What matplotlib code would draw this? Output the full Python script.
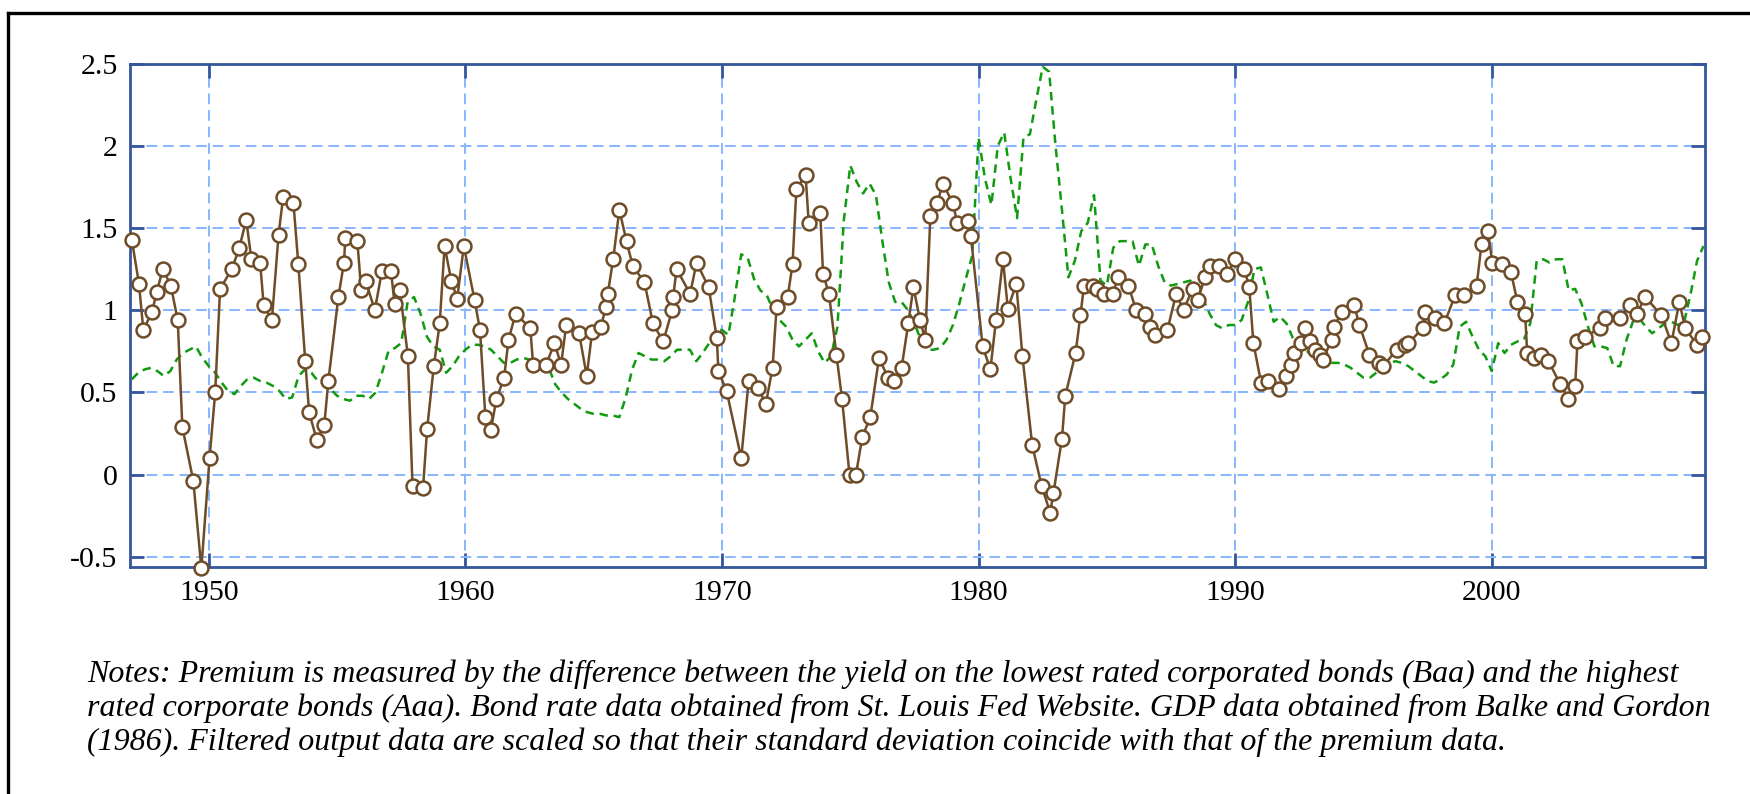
import numpy as np
import matplotlib
matplotlib.use("Agg")
import matplotlib.pyplot as plt
from matplotlib.lines import Line2D

plt.rcParams['font.family'] = ['Liberation Serif', 'DejaVu Serif']
plt.rcParams['axes.unicode_minus'] = False

premium_year = [
    1947.00, 1947.28, 1947.45, 1947.79, 1947.97, 1948.21, 1948.52, 1948.79, 1948.97, 1949.40,
    1949.71, 1950.03, 1950.25, 1950.44, 1950.90, 1951.19, 1951.46, 1951.66, 1952.00, 1952.14,
    1952.46, 1952.72, 1952.90, 1953.30, 1953.49, 1953.76, 1953.91, 1954.21, 1954.50, 1954.66,
    1955.05, 1955.27, 1955.32, 1955.79, 1955.94, 1956.11, 1956.47, 1956.75, 1957.10, 1957.24,
    1957.45, 1957.76, 1957.94, 1958.35, 1958.51, 1958.77, 1959.00, 1959.19, 1959.45, 1959.68,
    1959.94, 1960.36, 1960.57, 1960.78, 1960.99, 1961.21, 1961.51, 1961.68, 1961.96, 1962.53,
    1962.64, 1963.15, 1963.47, 1963.73, 1963.93, 1964.43, 1964.73, 1964.94, 1965.29, 1965.47,
    1965.55, 1965.76, 1966.00, 1966.28, 1966.52, 1966.98, 1967.31, 1967.71, 1968.06, 1968.10,
    1968.23, 1968.76, 1969.01, 1969.48, 1969.80, 1969.86, 1970.18, 1970.75, 1971.04, 1971.40,
    1971.71, 1971.97, 1972.13, 1972.56, 1972.75, 1972.90, 1973.26, 1973.38, 1973.83, 1973.94,
    1974.17, 1974.46, 1974.68, 1974.97, 1975.22, 1975.47, 1975.78, 1976.12, 1976.47, 1976.70,
    1977.00, 1977.26, 1977.46, 1977.72, 1977.92, 1978.12, 1978.38, 1978.61, 1979.00, 1979.17,
    1979.59, 1979.70, 1980.16, 1980.46, 1980.68, 1980.95, 1981.14, 1981.47, 1981.71, 1982.09,
    1982.46, 1982.79, 1982.92, 1983.25, 1983.38, 1983.78, 1983.97, 1984.11, 1984.46, 1984.63,
    1984.87, 1985.22, 1985.45, 1985.84, 1986.14, 1986.47, 1986.67, 1986.89, 1987.36, 1987.70,
    1987.99, 1988.34, 1988.54, 1988.82, 1989.00, 1989.37, 1989.70, 1990.00, 1990.36, 1990.55,
    1990.71, 1991.01, 1991.28, 1991.71, 1991.97, 1992.17, 1992.29, 1992.55, 1992.72, 1992.90,
    1993.10, 1993.30, 1993.42, 1993.76, 1993.86, 1994.15, 1994.64, 1994.84, 1995.23, 1995.60,
    1995.77, 1996.29, 1996.62, 1996.75, 1997.31, 1997.40, 1997.79, 1998.15, 1998.57, 1998.93,
    1999.41, 1999.60, 1999.85, 2000.02, 2000.39, 2000.75, 2001.00, 2001.30, 2001.38, 2001.66,
    2001.91, 2002.21, 2002.67, 2002.99, 2003.25, 2003.34, 2003.64, 2004.20, 2004.42, 2004.98,
    2005.37, 2005.66, 2005.98, 2006.61, 2007.00, 2007.31, 2007.54, 2008.00, 2008.19,
]
premium = [
    1.43, 1.16, 0.88, 0.99, 1.11, 1.25, 1.15, 0.94, 0.29, -0.04,
    -0.57, 0.10, 0.50, 1.13, 1.25, 1.38, 1.55, 1.31, 1.29, 1.03,
    0.94, 1.46, 1.69, 1.65, 1.28, 0.69, 0.38, 0.21, 0.30, 0.57,
    1.08, 1.29, 1.44, 1.42, 1.12, 1.18, 1.00, 1.24, 1.24, 1.04,
    1.12, 0.72, -0.07, -0.08, 0.28, 0.66, 0.92, 1.39, 1.18, 1.07,
    1.39, 1.06, 0.88, 0.35, 0.27, 0.46, 0.59, 0.82, 0.98, 0.89,
    0.67, 0.67, 0.80, 0.67, 0.91, 0.86, 0.60, 0.87, 0.90, 1.02,
    1.10, 1.31, 1.61, 1.42, 1.27, 1.17, 0.92, 0.81, 1.00, 1.08,
    1.25, 1.10, 1.29, 1.14, 0.83, 0.63, 0.51, 0.10, 0.57, 0.53,
    0.43, 0.65, 1.02, 1.08, 1.28, 1.74, 1.82, 1.53, 1.59, 1.22,
    1.10, 0.73, 0.46, 0.00, 0.00, 0.23, 0.35, 0.71, 0.59, 0.57,
    0.65, 0.92, 1.14, 0.94, 0.82, 1.57, 1.65, 1.77, 1.65, 1.53,
    1.54, 1.45, 0.78, 0.64, 0.94, 1.31, 1.01, 1.16, 0.72, 0.18,
    -0.07, -0.23, -0.11, 0.22, 0.48, 0.74, 0.97, 1.15, 1.15, 1.13,
    1.10, 1.10, 1.20, 1.15, 1.00, 0.98, 0.90, 0.85, 0.88, 1.10,
    1.00, 1.13, 1.06, 1.20, 1.27, 1.27, 1.22, 1.31, 1.25, 1.14,
    0.80, 0.56, 0.57, 0.52, 0.60, 0.67, 0.74, 0.80, 0.89, 0.81,
    0.76, 0.73, 0.70, 0.82, 0.90, 0.99, 1.03, 0.91, 0.73, 0.68,
    0.66, 0.76, 0.79, 0.80, 0.89, 0.99, 0.95, 0.92, 1.09, 1.09,
    1.15, 1.40, 1.48, 1.29, 1.28, 1.23, 1.05, 0.98, 0.74, 0.71,
    0.73, 0.69, 0.55, 0.46, 0.54, 0.81, 0.84, 0.89, 0.95, 0.95,
    1.03, 0.98, 1.08, 0.97, 0.80, 1.05, 0.89, 0.79, 0.84,
]

# Filtered output (scaled), quarterly from 1947Q1
output_start = 1947.0
output = [
    0.58, 0.62, 0.64, 0.65, 0.63, 0.60, 0.63, 0.70, 0.74, 0.76,
    0.78, 0.71, 0.66, 0.62, 0.56, 0.51, 0.49, 0.54, 0.58, 0.59,
    0.57, 0.56, 0.54, 0.51, 0.46, 0.47, 0.60, 0.64, 0.62, 0.57,
    0.55, 0.52, 0.48, 0.46, 0.45, 0.48, 0.48, 0.46, 0.50, 0.62,
    0.75, 0.77, 0.80, 1.05, 1.08, 0.98, 0.84, 0.78, 0.76, 0.62,
    0.66, 0.72, 0.76, 0.79, 0.79, 0.78, 0.76, 0.72, 0.68, 0.68,
    0.70,
    0.71, 0.70, 0.69, 0.67, 0.65, 0.55, 0.50, 0.46, 0.43, 0.40,
    0.38, 0.37, 0.37, 0.36, 0.36, 0.35, 0.47, 0.64, 0.74, 0.72,
    0.70, 0.70, 0.69, 0.72, 0.76, 0.76, 0.76, 0.69, 0.74, 0.80,
    0.88, 0.88, 0.85, 1.08, 1.34, 1.32, 1.19, 1.12, 1.09, 1.00,
    0.94, 0.90, 0.82, 0.78, 0.82, 0.86, 0.75, 0.68, 0.72, 0.90,
    1.55, 1.88, 1.78, 1.71, 1.77, 1.70, 1.42, 1.17, 1.05, 1.05,
    1.00, 0.92, 0.82, 0.76,
    0.76, 0.77, 0.82, 0.91, 1.04, 1.19, 1.33, 2.05, 1.80, 1.64,
    2.00, 2.08, 1.80, 1.56, 2.05, 2.07, 2.28, 2.48, 2.45, 2.00,
    1.61, 1.20, 1.30, 1.48, 1.53, 1.70, 1.18, 1.15, 1.38, 1.42,
    1.42, 1.42, 1.27, 1.40, 1.40, 1.27, 1.17, 1.15, 1.16, 1.17,
    1.18, 1.14, 1.07, 0.98, 0.91, 0.89, 0.91, 0.91, 0.94, 1.05,
    1.25, 1.26, 1.10, 0.93, 0.96, 0.92, 0.83, 0.77, 0.76, 0.72,
    0.69,
    0.68, 0.68, 0.68, 0.67, 0.65, 0.62, 0.59, 0.59, 0.62, 0.65,
    0.68, 0.69, 0.68, 0.66, 0.63, 0.60, 0.57, 0.56, 0.58, 0.61,
    0.67, 0.90, 0.93, 0.84, 0.76, 0.72, 0.63, 0.80, 0.74, 0.79,
    0.81, 0.82, 0.92, 1.30, 1.31, 1.29, 1.31, 1.31, 1.12, 1.13,
    1.04, 0.90, 0.78, 0.78, 0.77, 0.66, 0.66, 0.82, 0.93, 0.95,
    0.90, 0.86, 0.89, 0.92, 0.93, 0.91, 0.93, 1.10, 1.30, 1.39,
]
output_year = output_start + 0.25 * np.arange(len(output))

x_ticks = [1950, 1960, 1970, 1980, 1990, 2000]
y_ticks = [-0.5, 0, 0.5, 1, 1.5, 2, 2.5]
y_labels = ['-0.5', '0', '0.5', '1', '1.5', '2', '2.5']

notes = [
    "Notes: Premium is measured by the difference between the yield on the lowest rated corporated bonds (Baa) and the highest",
    "rated corporate bonds (Aaa). Bond rate data obtained from St. Louis Fed Website. GDP data obtained from Balke and Gordon",
    "(1986). Filtered output data are scaled so that their standard deviation coincide with that of the premium data.",
]

frame_blue = '#34569c'
grid_blue = '#88b6ff'
brown = '#6e4c28'
green = '#109a10'

fig = plt.figure(figsize=(17.5, 7.94), dpi=100)
ax = fig.add_axes([130 / 1750, 1 - 567 / 794, 1575 / 1750, (567 - 63.5) / 794])

ax.plot(output_year, output, color=green, linestyle=(0, (3.4, 2.3)), linewidth=1.8, zorder=3)
ax.plot(premium_year, premium, color=brown, linewidth=1.8, marker='o', markersize=10,
        markerfacecolor='white', markeredgecolor=brown, markeredgewidth=1.8,
        zorder=4, clip_on=False)

ax.set_xlim(1946.93, 2008.31)
ax.set_ylim(-0.561, 2.5)
ax.set_xticks(x_ticks)
ax.set_yticks(y_ticks)
ax.set_yticklabels(y_labels)

ax.grid(True, color=grid_blue, linestyle=(0, (5.5, 3)), linewidth=1.4, zorder=0)
ax.set_axisbelow(True)
for s in ax.spines.values():
    s.set_color(frame_blue)
    s.set_linewidth(2)
ax.tick_params(direction='in', length=10, width=2, color=frame_blue,
               top=True, right=True, labelsize=21.5, pad=9)

for i, line in enumerate(notes):
    fig.text(87 / 1750, 1 - (682 + i * 34) / 794, line, fontsize=23, style='italic',
             va='baseline', ha='left')

# outer frame (left and top edges only)
fig.add_artist(Line2D([8 / 1750, 8 / 1750], [0, 1 - 13 / 794], color='black', linewidth=2.4))
fig.add_artist(Line2D([8 / 1750, 1], [1 - 13 / 794, 1 - 13 / 794], color='black', linewidth=2.4))

fig.savefig('out.png', dpi=100)
